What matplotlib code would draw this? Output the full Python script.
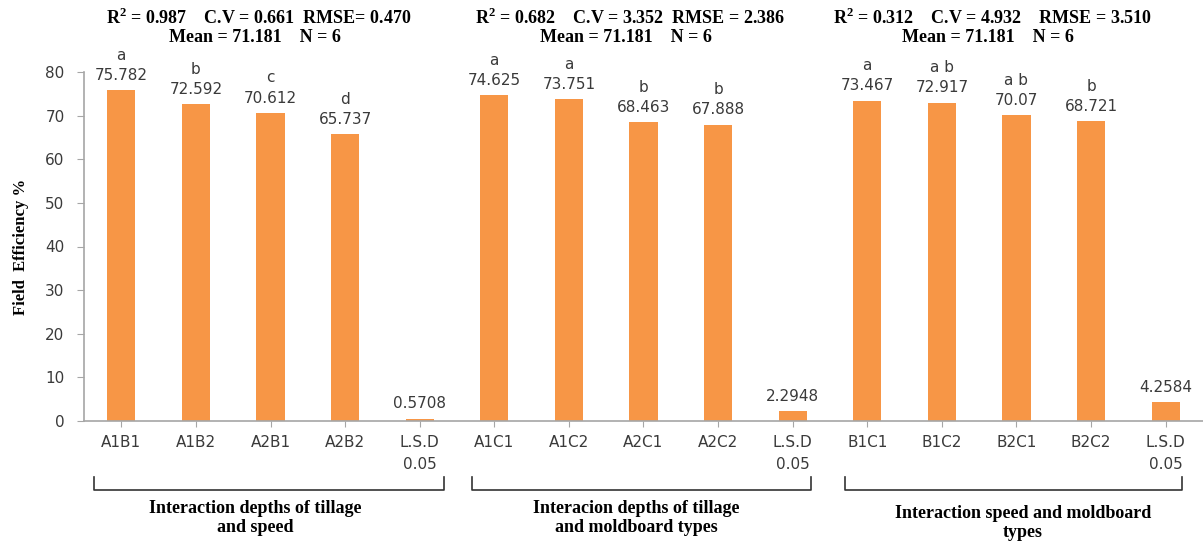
import numpy as np
import matplotlib.pyplot as plt
import matplotlib.transforms as mtransforms
from matplotlib.lines import Line2D

# data
categories = ['A1B1', 'A1B2', 'A2B1', 'A2B2', 'L.S.D\n0.05',
              'A1C1', 'A1C2', 'A2C1', 'A2C2', 'L.S.D\n0.05',
              'B1C1', 'B1C2', 'B2C1', 'B2C2', 'L.S.D\n0.05']
values = [75.782, 72.592, 70.612, 65.737, 0.5708,
          74.625, 73.751, 68.463, 67.888, 2.2948,
          73.467, 72.917, 70.07, 68.721, 4.2584]
value_labels = ['75.782', '72.592', '70.612', '65.737', '0.5708',
                '74.625', '73.751', '68.463', '67.888', '2.2948',
                '73.467', '72.917', '70.07', '68.721', '4.2584']
letters = ['a', 'b', 'c', 'd', '',
           'a', 'a', 'b', 'b', '',
           'a', 'a b', 'a b', 'b', '']
stats_line1 = ['R$^{\\mathbf{2}}$ = 0.987    C.V = 0.661  RMSE= 0.470',
               'R$^{\\mathbf{2}}$ = 0.682    C.V = 3.352  RMSE = 2.386',
               'R$^{\\mathbf{2}}$ = 0.312    C.V = 4.932    RMSE = 3.510']
stats_line2 = ['Mean = 71.181    N = 6'] * 3
group_titles = ['Interaction depths of tillage\nand speed',
                'Interacion depths of tillage\nand moldboard types',
                'Interaction speed and moldboard\ntypes']

bar_color = '#F79646'
text_color = '#3a3a3a'
spine_color = '#a6a6a6'

plt.rcParams['mathtext.fontset'] = 'custom'
plt.rcParams['mathtext.rm'] = 'Liberation Serif:bold'
plt.rcParams['mathtext.bf'] = 'Liberation Serif:bold'

fig = plt.figure(figsize=(12.03, 5.42), dpi=100)
ax = fig.add_axes([84 / 1203, 121 / 542, 1119 / 1203, 349 / 542])

x = np.arange(len(categories))
ax.bar(x, values, width=0.38, color=bar_color, zorder=2)

for xi, v, vl, lt in zip(x, values, value_labels, letters):
    ax.annotate(vl, (xi, v), xytext=(0, 7.5), textcoords='offset points',
                ha='center', va='baseline', fontsize=11, color=text_color)
    if lt:
        ax.annotate(lt, (xi, v), xytext=(0, 22), textcoords='offset points',
                    ha='center', va='baseline', fontsize=11, color=text_color)

ax.set_xlim(-0.5, len(categories) - 0.5)
ax.set_ylim(0, 80)
ax.set_yticks(np.arange(0, 81, 10))
ax.set_xticks(x)
ax.set_xticklabels(categories, fontsize=11, color=text_color, linespacing=1.6)
ax.tick_params(axis='y', labelsize=11, labelcolor=text_color, color=spine_color,
               length=5, pad=9)
ax.tick_params(axis='x', color=spine_color, length=4, pad=6)

for s in ['top', 'right']:
    ax.spines[s].set_visible(False)
for s in ['left', 'bottom']:
    ax.spines[s].set_color(spine_color)
    ax.spines[s].set_linewidth(1.2)

ax.set_ylabel('Field  Efficiency %', fontsize=12, fontweight='bold',
              family='Liberation Serif', color='black', labelpad=12)

# stats on top
stat_x = [259, 630, 992]
for sx, l1, l2 in zip(stat_x, stats_line1, stats_line2):
    fig.text(sx / 1203, 1 - 18 / 542, l1, ha='center', va='center', fontsize=13,
             fontweight='bold', family='Liberation Serif')
    fig.text(sx / 1203 - 0.003, 1 - 37 / 542, l2, ha='center', va='center', fontsize=13,
             fontweight='bold', family='Liberation Serif')

# brackets below the groups
trans = mtransforms.blended_transform_factory(ax.transData, ax.transAxes)
bracket_x = [(-0.37, 4.33), (4.70, 9.25), (9.70, 14.22)]
y_top, y_bot = -0.16, -0.198
for x0, x1 in bracket_x:
    ax.add_line(Line2D([x0, x0, x1, x1], [y_top, y_bot, y_bot, y_top],
                       transform=trans, color='#333333', lw=1.2, clip_on=False))

title_x = [255, 636, 1023]
title_y = [518, 518, 523]
for tx, ty, t in zip(title_x, title_y, group_titles):
    fig.text(tx / 1203, 1 - ty / 542, t, ha='center', va='center', fontsize=13,
             fontweight='bold', family='Liberation Serif', linespacing=1.1)

fig.savefig('out.png', dpi=100)
